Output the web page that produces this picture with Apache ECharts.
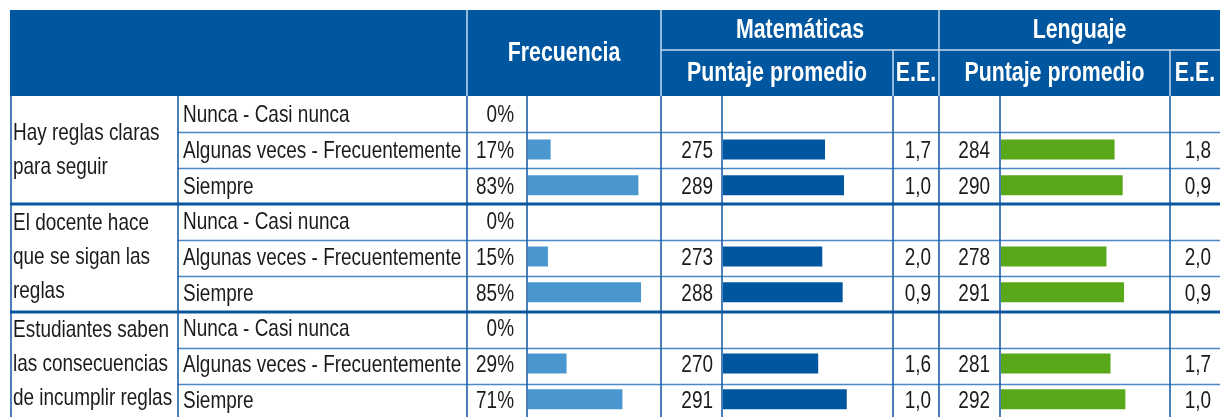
<!DOCTYPE html>
<html>
<head>
<meta charset="utf-8">
<script src="https://cdn.jsdelivr.net/npm/echarts@6/dist/echarts.min.js"></script>
<style>
  html, body { margin: 0; padding: 0; background: #ffffff; }
  #chart { width: 1220px; height: 417px; }
</style>
</head>
<body>
<div id="chart"></div>
<script>
// Table content
const groupLabels = [
  'Hay reglas claras\npara seguir',
  'El docente hace\nque se sigan las\nreglas',
  'Estudiantes saben\nlas consecuencias\nde incumplir reglas'
];
const responseLabels = ['Nunca - Casi nunca', 'Algunas veces - Frecuentemente', 'Siempre'];

// One entry per row (3 groups x 3 responses); null = no estimate
const frequency = [0, 17, 83, 0, 15, 85, 0, 29, 71];
const mathScore = [null, 275, 289, null, 273, 288, null, 270, 291];
const mathSE    = [null, 1.7, 1.0, null, 2.0, 0.9, null, 1.6, 1.0];
const langScore = [null, 284, 290, null, 278, 291, null, 281, 292];
const langSE    = [null, 1.8, 0.9, null, 2.0, 0.9, null, 1.7, 1.0];

const headerTitles = { freq: 'Frecuencia', math: 'Matemáticas', lang: 'Lenguaje', score: 'Puntaje promedio', se: 'E.E.' };

// Layout and style
const FONT = '"Liberation Sans", Arial, sans-serif';
const NARROW = 0.79;            // horizontal squeeze to get a condensed face
const BODY_FONT = '24px ' + FONT;
const HEAD_FONT = 'bold 27px ' + FONT;
const BLUE = '#0057a0';
const FREQ_BLUE = '#4a97cf';
const GREEN = '#58a819';
const TEXT = '#1b1b1b';
const LEFT = 10, RIGHT = 1220;
const HEAD_TOP = 10, HEAD_MID = 50, BODY_TOP = 96;
const ROW_H = 36;
const NROWS = groupLabels.length * responseLabels.length;
const BODY_H = ROW_H * NROWS;
const COL = { group: 10, resp: 178, pct: 467, freqBar: 527, math: 661, mathBar: 722, mathSE: 893, lang: 939, langBar: 1000, langSE: 1170 };

const rowKeys = [];
for (let i = 0; i < NROWS; i++) rowKeys.push('r' + i);
const groupKeys = groupLabels.map(function (_, i) { return 'g' + i; });

const fmtComma = function (v) { return v == null ? '' : v.toFixed(1).replace('.', ','); };

const chart = echarts.init(document.getElementById('chart'), null, { renderer: 'canvas' });

function catAxis(gridIndex, data) {
  return {
    type: 'category', gridIndex: gridIndex, data: data, inverse: true,
    axisLine: { show: false }, axisTick: { show: false }, splitLine: { show: false }, axisLabel: { show: false }
  };
}
function valAxis(gridIndex, min, max) {
  return { type: 'value', gridIndex: gridIndex, min: min, max: max, show: false };
}
function gridAt(x1, x2) {
  return { left: x1, top: BODY_TOP, width: x2 - x1, height: BODY_H, containLabel: false };
}

chart.setOption({
  backgroundColor: '#ffffff',
  animation: false,
  grid: [
    gridAt(COL.group, COL.resp),           // 0: group rows
    gridAt(COL.freqBar + 1, COL.math),     // 1: frequency bars
    gridAt(COL.mathBar + 1, COL.mathSE),   // 2: math bars
    gridAt(COL.langBar + 1, COL.langSE)    // 3: language bars
  ],
  xAxis: [valAxis(0, 0, 1), valAxis(1, 0, 100), valAxis(2, 200, 325), valAxis(3, 200, 325)],
  yAxis: [catAxis(0, groupKeys), catAxis(1, rowKeys), catAxis(2, rowKeys), catAxis(3, rowKeys)],
  series: [
    { type: 'bar', xAxisIndex: 1, yAxisIndex: 1, data: frequency, barWidth: 20, itemStyle: { color: FREQ_BLUE }, silent: true },
    { type: 'bar', xAxisIndex: 2, yAxisIndex: 2, data: mathScore, barWidth: 20, itemStyle: { color: BLUE }, silent: true },
    { type: 'bar', xAxisIndex: 3, yAxisIndex: 3, data: langScore, barWidth: 20, itemStyle: { color: GREEN }, silent: true }
  ]
});

// Header, rules and cell texts
const graphics = [];
graphics.push({ type: 'rect', z: 1, shape: { x: LEFT, y: HEAD_TOP, width: RIGHT - LEFT, height: BODY_TOP - HEAD_TOP }, style: { fill: BLUE } });
const headLine = { stroke: '#c9d9ec', lineWidth: 1.5 };
[COL.pct, COL.math, COL.lang].forEach(function (x) {
  graphics.push({ type: 'line', z: 2, shape: { x1: x, y1: HEAD_TOP, x2: x, y2: BODY_TOP }, style: headLine });
});
[COL.mathSE, COL.langSE].forEach(function (x) {
  graphics.push({ type: 'line', z: 2, shape: { x1: x, y1: HEAD_MID, x2: x, y2: BODY_TOP }, style: headLine });
});
graphics.push({ type: 'line', z: 2, shape: { x1: COL.math, y1: HEAD_MID, x2: RIGHT, y2: HEAD_MID }, style: headLine });

function text(x, y, str, font, color, align, extra) {
  graphics.push({
    type: 'text', z: 30, x: x, y: y, scaleX: NARROW,
    style: Object.assign({ text: str, fill: color, font: font, align: align, verticalAlign: 'middle' }, extra || {})
  });
}
const headMidY = (HEAD_TOP + BODY_TOP) / 2 + 1;
const headTopY = (HEAD_TOP + HEAD_MID) / 2 + 1;
const headLowY = (HEAD_MID + BODY_TOP) / 2 + 1;
text((COL.pct + COL.math) / 2, headMidY, headerTitles.freq, HEAD_FONT, '#fff', 'center');
text((COL.math + COL.lang) / 2, headTopY, headerTitles.math, HEAD_FONT, '#fff', 'center');
text((COL.lang + RIGHT) / 2, headTopY, headerTitles.lang, HEAD_FONT, '#fff', 'center');
text((COL.math + COL.mathSE) / 2, headLowY, headerTitles.score, HEAD_FONT, '#fff', 'center');
text((COL.mathSE + COL.lang) / 2, headLowY, headerTitles.se, HEAD_FONT, '#fff', 'center');
text((COL.lang + COL.langSE) / 2, headLowY, headerTitles.score, HEAD_FONT, '#fff', 'center');
text((COL.langSE + RIGHT) / 2, headLowY, headerTitles.se, HEAD_FONT, '#fff', 'center');

// Group labels, centred on their block of rows
groupKeys.forEach(function (k, g) {
  const y = chart.convertToPixel({ yAxisIndex: 0 }, k);
  text(13, y + 1, groupLabels[g], BODY_FONT, TEXT, 'left', { lineHeight: 34 });
});
// Row texts
rowKeys.forEach(function (k, i) {
  const y = chart.convertToPixel({ yAxisIndex: 1 }, k) + 2;
  text(183, y, responseLabels[i % responseLabels.length], BODY_FONT, TEXT, 'left');
  text(514, y, frequency[i] + '%', BODY_FONT, TEXT, 'right');
  if (mathScore[i] != null) text(713, y, String(mathScore[i]), BODY_FONT, TEXT, 'right');
  if (mathSE[i] != null) text(931, y, fmtComma(mathSE[i]), BODY_FONT, TEXT, 'right');
  if (langScore[i] != null) text(990, y, String(langScore[i]), BODY_FONT, TEXT, 'right');
  if (langSE[i] != null) text(1211, y, fmtComma(langSE[i]), BODY_FONT, TEXT, 'right');
});

// Horizontal rules: thin between responses, thick between groups
for (let k = 1; k < NROWS; k++) {
  const y = BODY_TOP + k * ROW_H;
  if (k % responseLabels.length === 0) {
    graphics.push({ type: 'line', z: 20, shape: { x1: LEFT, y1: y, x2: RIGHT, y2: y }, style: { stroke: '#0a57a1', lineWidth: 3 } });
  } else {
    graphics.push({ type: 'line', z: 19, shape: { x1: COL.resp, y1: y + 0.5, x2: RIGHT, y2: y + 0.5 }, style: { stroke: '#4a88c6', lineWidth: 1.4 } });
  }
}
// Vertical rules
[COL.group + 1, COL.resp, COL.pct, COL.freqBar, COL.math, COL.mathBar, COL.mathSE, COL.lang, COL.langBar, COL.langSE].forEach(function (x) {
  graphics.push({ type: 'line', z: 19, shape: { x1: x, y1: BODY_TOP, x2: x, y2: BODY_TOP + BODY_H }, style: { stroke: '#1d5fa9', lineWidth: 1.6 } });
});

chart.setOption({ graphic: { elements: graphics } });
</script>
</body>
</html>
